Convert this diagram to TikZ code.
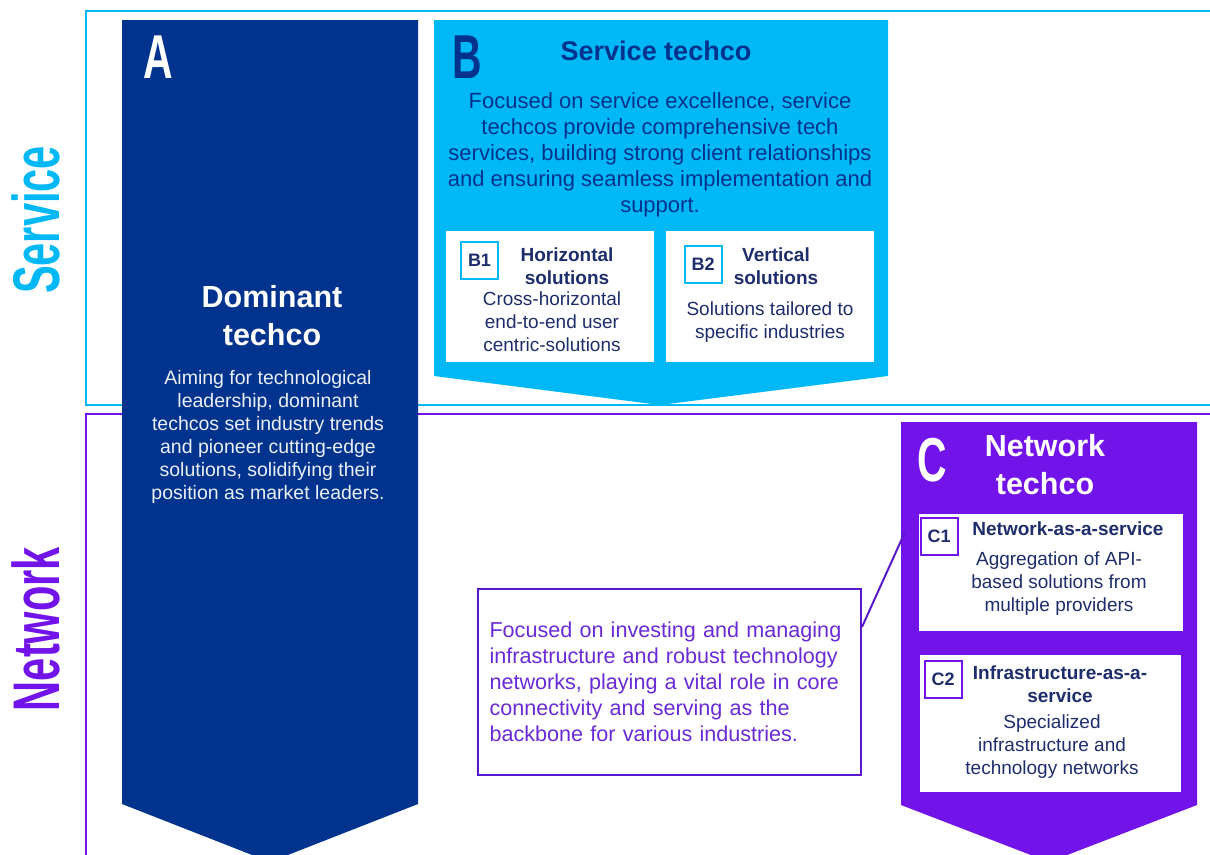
\documentclass[tikz,border=0pt]{standalone}
\usepackage{fontspec}
\setmainfont{Liberation Sans}
\usepackage{graphicx}
\definecolor{kcyan}{HTML}{00B8F5}
\definecolor{kblue}{HTML}{00338D}
\definecolor{knavy}{HTML}{1E2D6B}
\definecolor{kpurple}{HTML}{7213EA}
\definecolor{kviolet}{HTML}{5A18CC}
\definecolor{kvtext}{HTML}{6A2BD6}
\newcommand{\bigletter}[1]{\scalebox{0.66}[1]{\bfseries\fontsize{62}{62}\selectfont #1}}
\newcommand{\sidelabel}[1]{\scalebox{0.63}[1]{\bfseries\fontsize{66}{66}\selectfont #1}}
\tikzset{
  badge/.style={draw, line width=2pt, fill=white, minimum size=37pt, inner sep=0pt,
    text=knavy, font=\bfseries\fontsize{18}{20}\selectfont},
  card/.style={fill=white, inner sep=0pt},
  head/.style={align=center, font=\bfseries\fontsize{19}{23}\selectfont, text=knavy},
  body/.style={align=center, font=\fontsize{19}{23}\selectfont, text=knavy},
}
\begin{document}
\begin{tikzpicture}[x=1pt, y=-1pt]
            \useasboundingbox (0,0) rectangle (1210,854);
            \clip (0,0) rectangle (1210,854);
            % frames
            \draw[line width=2pt, kcyan] (1215,11) -- (86,11) -- (86,405) -- (1215,405);
            \draw[line width=2pt, kpurple] (1215,414) -- (86,414) -- (86,860);
            \node[rotate=90, text=kcyan] (service) at (36,220) {\sidelabel{Service}};
            \node[rotate=90, text=kpurple] (network) at (36,629) {\sidelabel{Network}};
            % A
            \fill[kblue] (122,20) -- (418,20) -- (418,804) -- (270,862) -- (122,804) -- cycle;
            \node[text=white] (aletter) at (158,57) {\bigletter{A}};
            \node[align=center, text=white, font=\bfseries\fontsize{30.5}{38}\selectfont] (atitle) at (272,316) {Dominant\\techco};
            \node[body, text=white!92!kblue, font=\fontsize{19.5}{23}\selectfont] (abody) at (268,437) {Aiming for technological\\leadership, dominant\\techcos set industry trends\\and pioneer cutting-edge\\solutions, solidifying their\\position as market leaders.};
            % B
            \fill[kcyan] (434,20) -- (888,20) -- (888,376) -- (660,405) -- (434,376) -- cycle;
            \node[text=kblue] (bletter) at (467,57) {\bigletter{B}};
            \node[text=kblue, font=\bfseries\fontsize{27}{30}\selectfont] (btitle) at (656,51) {Service techco};
            \node[align=center, text=kblue, font=\fontsize{22}{26}\selectfont] (bbody) at (660,155) {Focused on service excellence, service\\techcos provide comprehensive tech\\services, building strong client relationships\\and ensuring seamless implementation and\\support.};
            \fill[white] (446,231) rectangle (654,362);
            \fill[white] (666,231) rectangle (874,362);
            \node[badge, draw=kcyan] (bone) at (479.5,260) {B1};
            \node[badge, draw=kcyan] (btwo) at (703,264.5) {B2};
            \node[head] (bonehead) at (567,266) {Horizontal\\solutions};
            \node[body] (bonebody) at (552,322) {Cross-horizontal\\end-to-end user\\centric-solutions};
            \node[head] (btwohead) at (776,266) {Vertical\\solutions};
            \node[body] (btwobody) at (770,322) {Solutions tailored to\\specific industries};
            % C
            \fill[kpurple] (901,422) -- (1197,422) -- (1197,805) -- (1049,862) -- (901,805) -- cycle;
            \node[text=white] (cletter) at (932,460) {\bigletter{C}};
            \node[align=center, text=white, font=\bfseries\fontsize{30.5}{38}\selectfont] (ctitle) at (1045,465) {Network\\techco};
            \fill[white] (919,514) rectangle (1183,631);
            \fill[white] (920,655) rectangle (1181,792);
            \node[badge, draw=kpurple] (cone) at (939,536) {C1};
            \node[badge, draw=kpurple] (ctwo) at (943,679.5) {C2};
            \node[head] (conehead) at (1068,529) {Network-as-a-service};
            \node[body] (conebody) at (1059,584) {Aggregation of API-\\based solutions from\\multiple providers};
            \node[head] (ctwohead) at (1060,684) {Infrastructure-as-a-\\service};
            \node[body] (ctwobody) at (1052,747) {Specialized\\infrastructure and\\technology networks};
            % callout
            \node[draw=kviolet, line width=2pt, fill=white, text width=360pt, inner xsep=11.5pt,
                  minimum height=186pt, align=left, text=kvtext, font=\fontsize{21.6}{26}\selectfont] (callout) at (669.5,682)
                  {\mbox{Focused on investing and managing}\\\mbox{infrastructure and robust technology}\\\mbox{networks, playing a vital role in core}\\connectivity and serving as the\\backbone for various industries.};
            \coordinate (cpin) at (905,532);
            \draw[line width=2pt, kviolet] ([yshift=-39pt]callout.north east) -- (cpin);
        \end{tikzpicture}
\end{document}
